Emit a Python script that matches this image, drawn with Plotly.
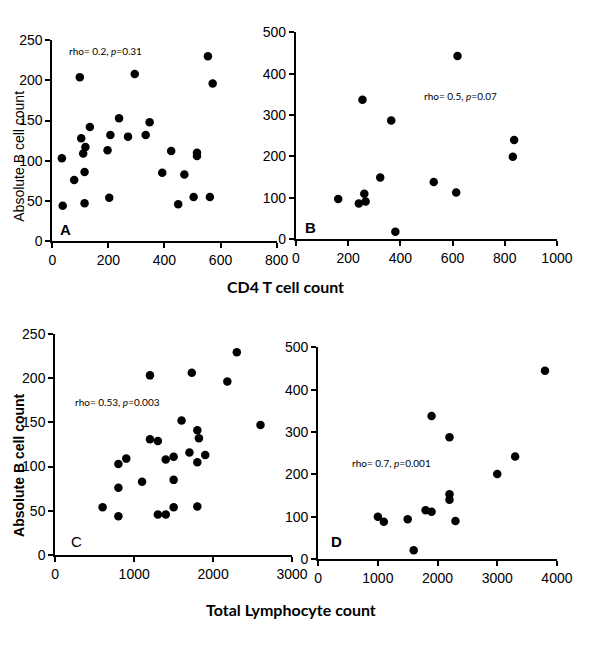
import plotly.graph_objects as go

# Panel A: CD4 T cell count vs Absolute B cell count (group 1)
a_x = [34, 37, 78, 98, 103, 110, 118, 115, 115, 134, 197, 207, 203, 238, 270, 294, 333, 347,
       392, 424, 449, 471, 504, 516, 516, 555, 562, 572]
a_y = [103, 44, 76, 204, 128, 109, 117, 86, 47, 142, 113, 132, 54, 153, 130, 208, 132, 148,
       85, 112, 46, 83, 55, 110, 106, 230, 55, 196]

# Panel B: CD4 T cell count vs Absolute B cell count (group 2)
b_x = [162, 241, 255, 262, 267, 323, 365, 381, 528, 614, 619, 831, 836]
b_y = [97, 86, 337, 110, 91, 149, 287, 18, 138, 113, 443, 199, 240]

# Panel C: Total lymphocyte count vs Absolute B cell count (group 1)
c_x = [600, 800, 800, 800, 900, 1100, 1200, 1200, 1300, 1300, 1400, 1400, 1500, 1500, 1500,
       1600, 1700, 1730, 1800, 1800, 1800, 1820, 1900, 2180, 2300, 2600]
c_y = [54, 44, 76, 103, 109, 83, 203, 131, 129, 46, 108, 46, 111, 85, 54,
       152, 116, 206, 141, 105, 55, 132, 113, 196, 229, 147]

# Panel D: Total lymphocyte count vs Absolute B cell count (group 2)
d_x = [1000, 1100, 1500, 1600, 1800, 1900, 1900, 2200, 2200, 2200, 2300, 3000, 3300, 3800]
d_y = [100, 88, 94, 21, 115, 112, 338, 153, 140, 288, 90, 201, 242, 445]

ranges = {
    "A": ([0, 800], [0, 250], 200, 50),
    "B": ([0, 1000], [0, 500], 200, 100),
    "C": ([0, 3000], [0, 250], 1000, 50),
    "D": ([0, 4000], [0, 500], 1000, 100),
}

W, H = 600, 648
def px(x):
    return x / W
def py(y):
    return 1 - y / H

domains = {
    "A": ([px(50), px(282)], [py(239), py(33)]),
    "B": ([px(302), px(572)], [py(237), py(25)]),
    "C": ([px(53), px(298)], [py(561), py(334)]),
    "D": ([px(325), px(572)], [py(565), py(348)]),
}

fig = go.Figure()
data = {"A": (a_x, a_y), "B": (b_x, b_y), "C": (c_x, c_y), "D": (d_x, d_y)}
for i, k in enumerate(["A", "B", "C", "D"]):
    n = "" if i == 0 else str(i + 1)
    xs, ys = data[k]
    fig.add_trace(go.Scatter(x=xs, y=ys, mode="markers", xaxis="x" + n, yaxis="y" + n,
                             marker=dict(color="black", size=8.5), showlegend=False,
                             cliponaxis=False))
    xr, yr, dx, dy = ranges[k]
    xd, yd = domains[k]
    axcommon = dict(showgrid=False, zeroline=False, showline=True, linecolor="black",
                    linewidth=2, ticks="outside", ticklen=5, tickwidth=2, tickcolor="black",
                    tickfont=dict(family="Liberation Sans, Arial", size=14, color="black"))
    fig.update_layout(**{
        "xaxis" + n: dict(domain=xd, range=xr, dtick=dx, tick0=0, anchor="y" + n, **axcommon),
        "yaxis" + n: dict(domain=yd, range=yr, dtick=dy, tick0=0, anchor="x" + n, **axcommon),
    })

anns = [
    dict(text="rho= 0.2, <i>p</i>=0.31", x=px(65), y=py(44), xanchor="left"),
    dict(text="rho= 0.5, <i>p</i>=0.07", x=px(432), y=py(90), xanchor="left"),
    dict(text="rho= 0.53, <i>p</i>=0.003", x=px(71), y=py(404), xanchor="left"),
    dict(text="rho= 0.7, <i>p</i>=0.001", x=px(358), y=py(467), xanchor="left"),
]
for a in anns:
    fig.add_annotation(xref="paper", yref="paper", yanchor="middle", showarrow=False,
                       font=dict(family="Lato, Open Sans", size=10, color="black"), **a)

letters = [("A", 64, 227, True), ("B", 317, 225, True), ("C", 75, 547, False), ("D", 344, 547, True)]
for t, x, y, b in letters:
    fig.add_annotation(xref="paper", yref="paper", x=px(x), y=py(y), xanchor="center",
                       yanchor="middle", showarrow=False,
                       text=("<b>%s</b>" % t) if b else t,
                       font=dict(family="Liberation Sans, Arial", size=15, color="black"))

fig.add_annotation(xref="paper", yref="paper", x=px(291), y=py(286), showarrow=False,
                   text="<b>CD4 T cell count</b>", xanchor="center", yanchor="middle",
                   font=dict(family="Lato, Open Sans", size=16, color="black"))
fig.add_annotation(xref="paper", yref="paper", x=px(297), y=py(617), showarrow=False,
                   text="<b>Total Lymphocyte count</b>", xanchor="center", yanchor="middle",
                   font=dict(family="Lato, Open Sans", size=16, color="black"))
fig.add_annotation(xref="paper", yref="paper", x=px(16), y=py(152), showarrow=False,
                   text="Absolute B cell count", textangle=-90, xanchor="center", yanchor="middle",
                   font=dict(family="Liberation Sans, Arial", size=14, color="black"))
fig.add_annotation(xref="paper", yref="paper", x=px(16), y=py(469), showarrow=False,
                   text="<b>Absolute B cell count</b>", textangle=-90, xanchor="center", yanchor="middle",
                   font=dict(family="Liberation Sans, Arial", size=14, color="black"))

fig.update_layout(width=W, height=H, margin=dict(l=0, r=0, t=0, b=0),
                  plot_bgcolor="white", paper_bgcolor="white")

fig.write_html("out.html", config={"displayModeBar": False},
               post_script="document.body.style.margin='0';document.body.style.overflow='hidden';")
